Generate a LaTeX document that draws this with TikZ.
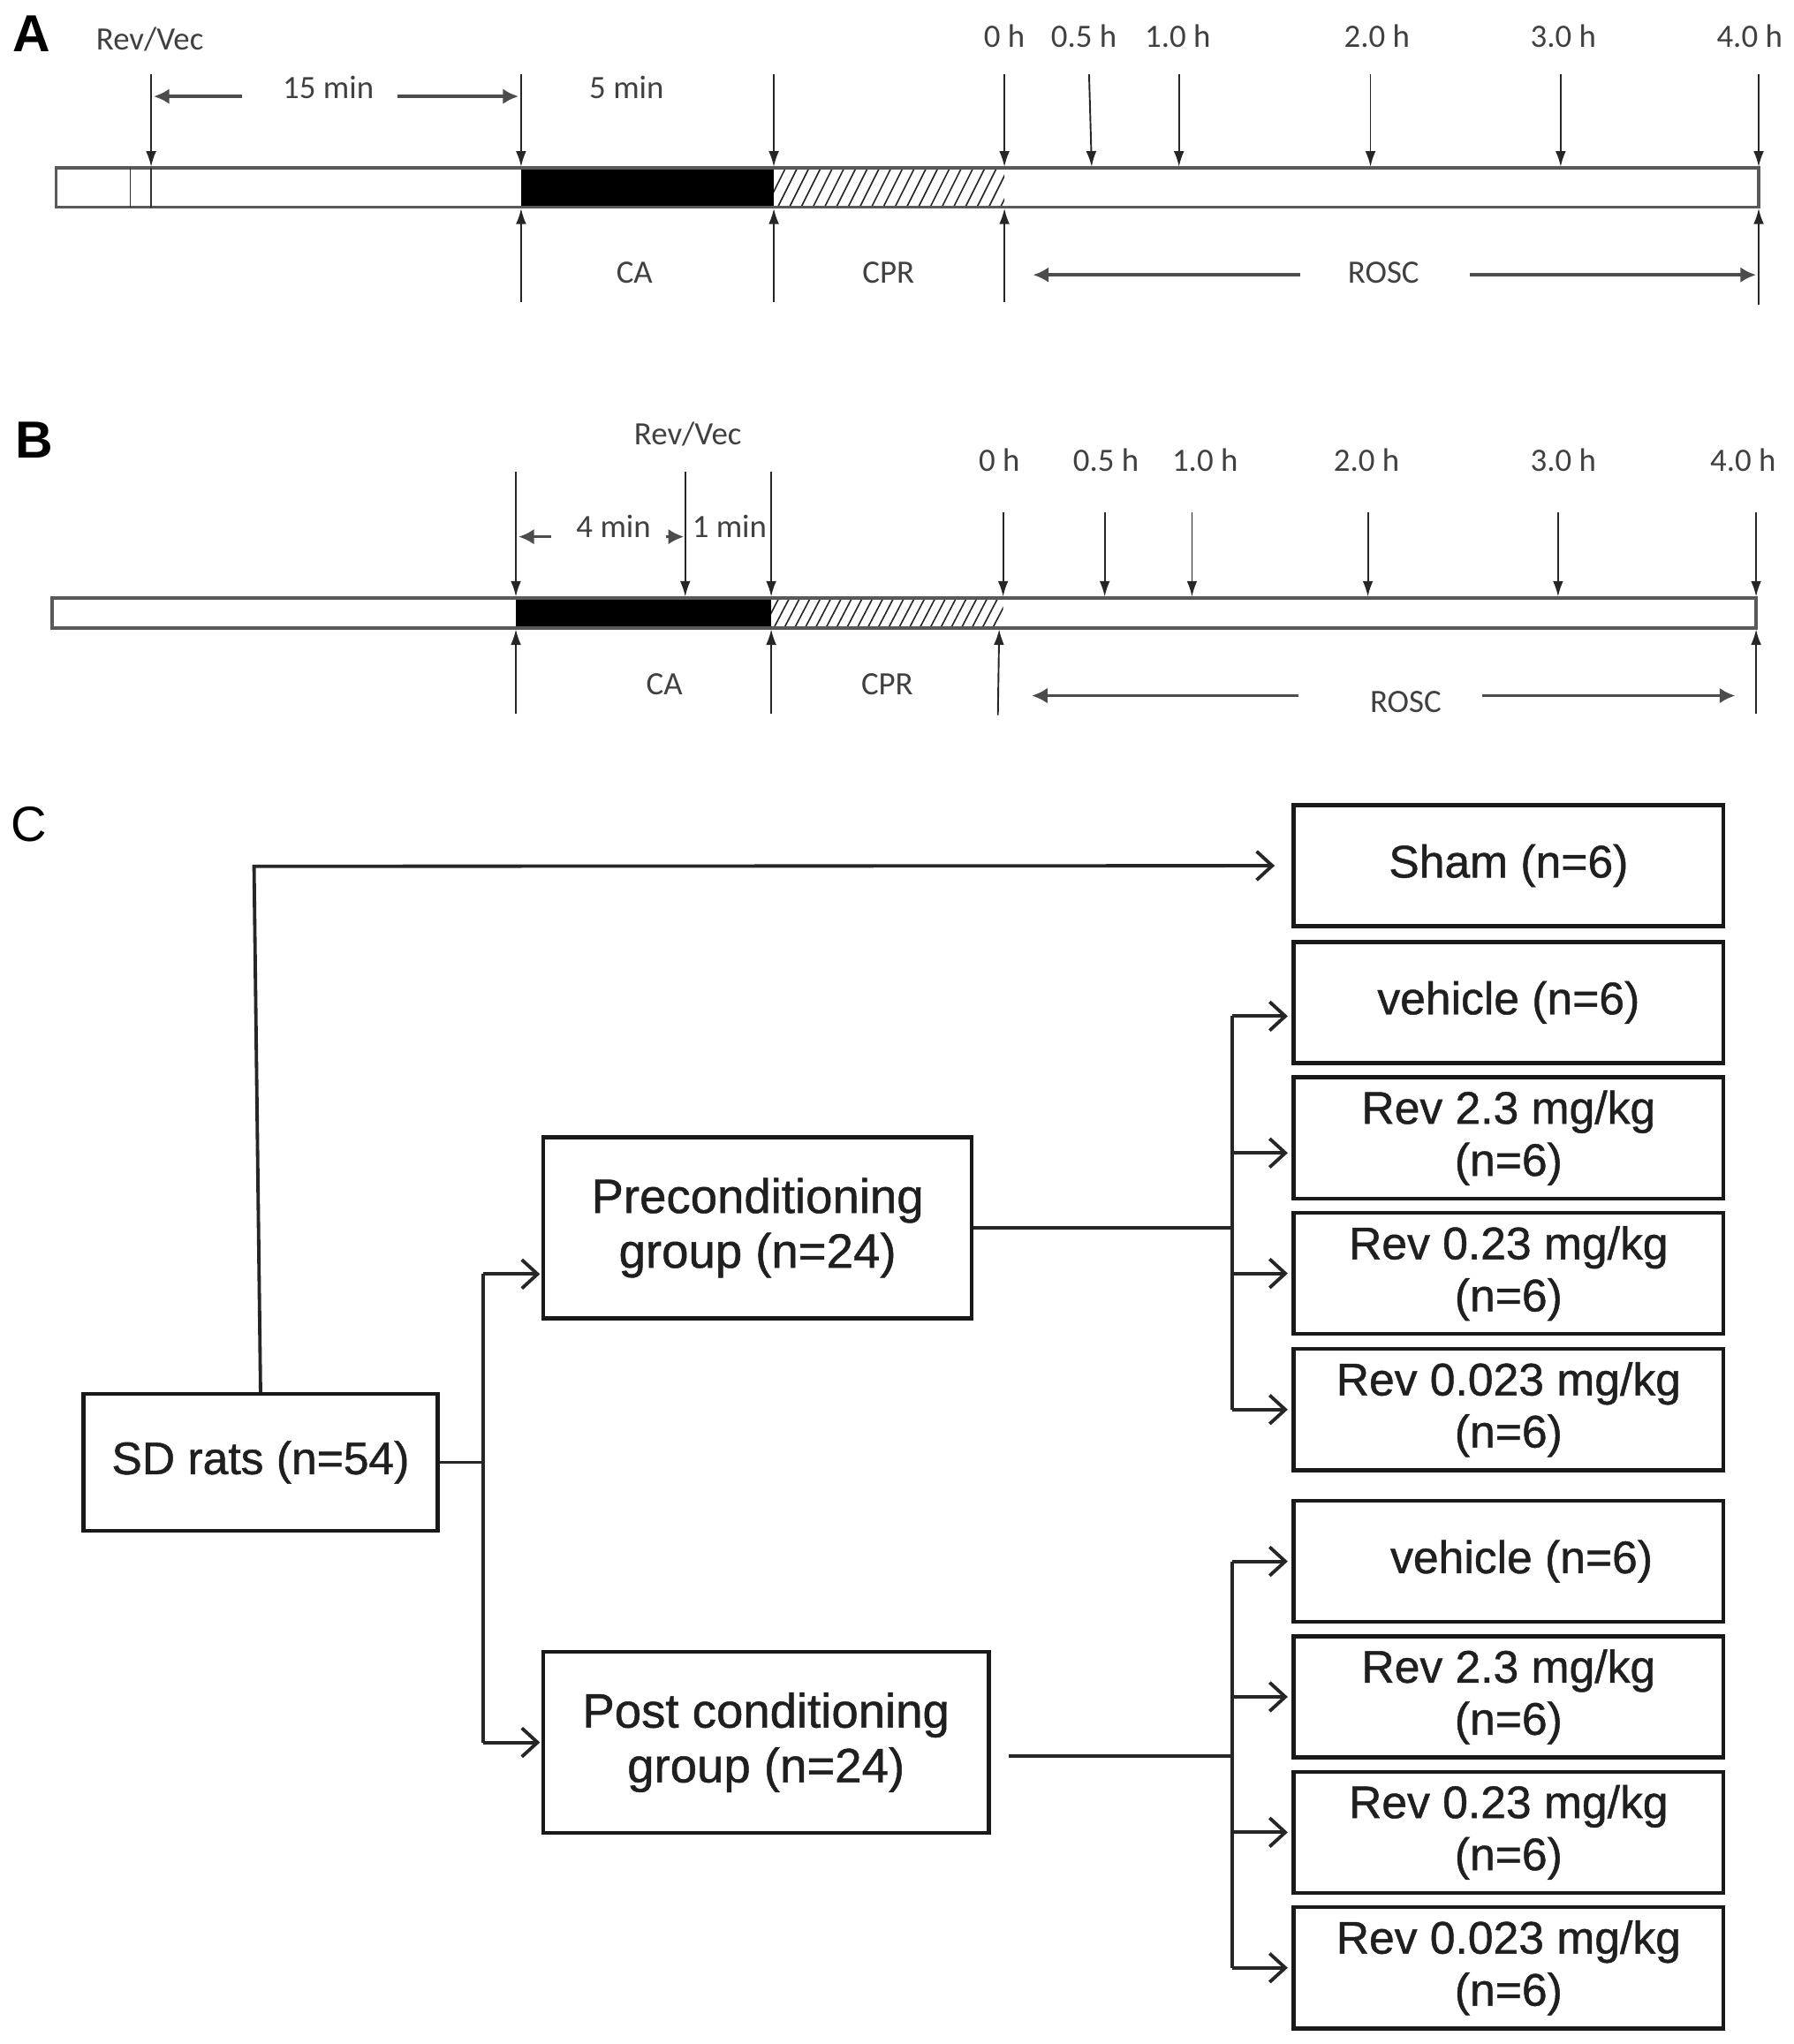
\documentclass[tikz,border=0pt]{standalone}
\usepackage{fontspec}
\setmainfont{Liberation Sans}
\newfontfamily\boxfont{Liberation Sans}[FakeBold=0.9]
\newfontfamily\calfont{Carlito}
\usetikzlibrary{arrows.meta}
\begin{document}
\begin{tikzpicture}[x=1pt,y=-1pt,
  tl/.style={line width=1.3pt, draw=black!85, -{Latex[length=12pt,width=8pt]}},
  dimarrow/.style={line width=2.4pt, draw=black!70, -{Latex[length=12pt,width=12pt]}},
  lbl/.style={font=\calfont\fontsize{25}{30}\selectfont, text=black!75, inner sep=0pt},
  panel/.style={font=\bfseries\fontsize{40}{44}\selectfont, inner sep=0pt},
  barline/.style={line width=2.4pt, draw=black!65},
  thinbar/.style={line width=1.3pt, draw=black!80},
  hatch/.style={line width=1.1pt, draw=black!85},
  box/.style={draw=black!90, line width=3pt, minimum width=330pt, minimum height=93pt,
    align=center, font=\boxfont\fontsize{35}{40}\selectfont, text=black!88, inner sep=0pt},
  grp/.style={box, font=\boxfont\fontsize{37}{42}\selectfont, minimum height=139pt},
  conn/.style={line width=2.6pt, draw=black!85},
  arr/.style={conn, -{Straight Barb[length=12pt,width=22pt]}}]
\useasboundingbox (0,0) rectangle (1377,1569);

% ================= Panel A =================
\node[panel] (labA) at (24,26) {A};
\node[lbl] (rvA) at (115,30) {Rev/Vec};
\fill[black] (400,129) rectangle (594,159);
\begin{scope}
  \clip (594,129) rectangle (771,159);
  \foreach \x in {570,579,...,780} \draw[hatch] (\x,159) -- (\x+15,129);
\end{scope}
\draw[barline] (43,129) rectangle (1350,159);
\draw[thinbar] (100,129) -- (100,159);
\draw[thinbar] (116,129) -- (116,159);
\foreach \x in {116,400,594,771,905,1052,1198,1350} \draw[tl] (\x,57) -- (\x,128);
\draw[tl] (836,57) -- (838,128);
\foreach \x in {400,594,771} \draw[tl] (\x,232) -- (\x,160);
\draw[tl] (1350,234) -- (1350,160);
\draw[dimarrow] (186,74) -- (118,74);
\draw[dimarrow] (305,74) -- (398,74);
\node[lbl] (m15) at (252,67) {15 min};
\node[lbl] (m5) at (481,67) {5 min};
\node[lbl] at (771,28) {0 h};
\node[lbl] at (832,28) {0.5 h};
\node[lbl] at (904,28) {1.0 h};
\node[lbl] at (1057,28) {2.0 h};
\node[lbl] at (1200,28) {3.0 h};
\node[lbl] at (1343,28) {4.0 h};
\node[lbl] at (487,209) {CA};
\node[lbl] at (682,209) {CPR};
\node[lbl] at (1062,209) {ROSC};
\draw[dimarrow] (998,211) -- (793,211);
\draw[dimarrow] (1128,211) -- (1348,211);

% ================= Panel B =================
\node[panel] (labB) at (26,338) {B};
\node[lbl] (rvB) at (528,333) {Rev/Vec};
\fill[black] (396,459) rectangle (592,482);
\begin{scope}
  \clip (592,459) rectangle (770,482);
  \foreach \x in {570,578,...,780} \draw[hatch] (\x,482) -- (\x+12,459);
\end{scope}
\draw[barline] (40,459) rectangle (1348,482);
\foreach \x in {396,526,592} \draw[tl] (\x,362) -- (\x,458);
\foreach \x in {770,848,915,1050,1196,1348} \draw[tl] (\x,393) -- (\x,458);
\foreach \x in {396,592,1348} \draw[tl] (\x,548) -- (\x,483);
\draw[tl] (766,549) -- (767,483);
\draw[dimarrow] (423,412) -- (398,412);
\draw[dimarrow] (511,412) -- (525,412);
\node[lbl] at (471,404) {4 min};
\node[lbl] at (560,404) {1 min};
\node[lbl] at (767,353) {0 h};
\node[lbl] at (849,353) {0.5 h};
\node[lbl] at (925,353) {1.0 h};
\node[lbl] at (1049,353) {2.0 h};
\node[lbl] at (1200,353) {3.0 h};
\node[lbl] at (1338,353) {4.0 h};
\node[lbl] at (510,525) {CA};
\node[lbl] at (681,525) {CPR};
\node[lbl] at (1079,539) {ROSC};
\draw[dimarrow] (997,534) -- (792,534);
\draw[dimarrow] (1138,534) -- (1332,534);

% ================= Panel C =================
\node[font=\fontsize{38}{42}\selectfont, inner sep=0pt] (labC) at (22,633) {C};

\node[box] (sham) at (1158,664.5) {Sham (n=6)};
\node[box] (v1) at (1158,769.5) {vehicle (n=6)};
\node[box] (a1) at (1158,873.5) {Rev 2.3 mg/kg\\(n=6)};
\node[box] (b1x) at (1158,977.5) {Rev 0.23 mg/kg\\(n=6)};
\node[box] (c1) at (1158,1082) {Rev 0.023 mg/kg\\(n=6)};

\node[box] (v2) at (1158,1198.5) {\hspace*{20pt}vehicle (n=6)};
\node[box] (a2) at (1158,1302.5) {Rev 2.3 mg/kg\\(n=6)};
\node[box] (b2x) at (1158,1406.5) {Rev 0.23 mg/kg\\(n=6)};
\node[box] (c2) at (1158,1510.5) {Rev 0.023 mg/kg\\(n=6)};

\node[box, minimum width=272pt, minimum height=105pt] (sd) at (200,1122.5) {SD rats (n=54)};
\node[grp, minimum width=329pt] (pre) at (581.5,942.5) {Preconditioning\\group (n=24)};
\node[grp, minimum width=342pt] (post) at (588,1337.5) {Post conditioning\\group (n=24)};

% SD -> Sham
\coordinate (tp) at (195,665);
\draw[arr, shorten >=13pt] (sd.north) -- (tp) -- (sham.west);

% SD -> groups
\coordinate (j1) at (371,1122.5);
\coordinate (pa) at ([yshift=-35.5pt]pre.west);
\draw[conn] (sd.east) -- (j1);
\draw[conn] (j1 |- pa) -- (j1 |- post.west);
\draw[arr, shorten >=1pt] (j1 |- pa) -- (pa);
\draw[arr, shorten >=1pt] (j1 |- post.west) -- (post.west);

% Preconditioning -> subgroups
\coordinate (br) at (946,0);
\coordinate (v1a) at ([yshift=-10.5pt]v1.west);
\coordinate (a1a) at ([yshift=-11.5pt]a1.west);
\draw[conn] (pre.east) -- (pre.east -| br);
\draw[conn] (v1a -| br) -- (c1.west -| br);
\draw[arr, shorten >=3pt] (v1a -| br) -- (v1a);
\draw[arr, shorten >=3pt] (a1a -| br) -- (a1a);
\draw[arr, shorten >=3pt] (b1x.west -| br) -- (b1x.west);
\draw[arr, shorten >=3pt] (c1.west -| br) -- (c1.west);

% Postconditioning -> subgroups
\coordinate (pe) at ([xshift=14pt,yshift=-10.5pt]post.east);
\draw[conn] (pe) -- (pe -| br);
\draw[conn] (v2.west -| br) -- (c2.west -| br);
\draw[arr, shorten >=3pt] (v2.west -| br) -- (v2.west);
\draw[arr, shorten >=3pt] (a2.west -| br) -- (a2.west);
\draw[arr, shorten >=3pt] (b2x.west -| br) -- (b2x.west);
\draw[arr, shorten >=3pt] (c2.west -| br) -- (c2.west);
\end{tikzpicture}
\end{document}
